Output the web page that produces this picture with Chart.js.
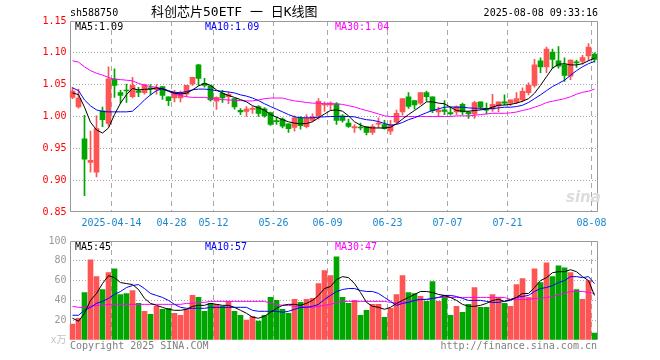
<!DOCTYPE html>
<html><head><meta charset="utf-8">
<script src="https://cdn.jsdelivr.net/npm/chart.js@4.4.1/dist/chart.umd.min.js"></script>
<style>
html,body{margin:0;padding:0;background:#fff;}
#wrap{position:relative;width:660px;height:360px;overflow:hidden;font-family:"DejaVu Sans Mono",monospace;}
canvas{position:absolute;left:0;}
.t{position:absolute;white-space:nowrap;font-size:10px;line-height:12px;font-family:"DejaVu Sans Mono","Noto Sans CJK SC",monospace;}
</style></head><body>
<div id="wrap">
<canvas id="k" width="660" height="232" style="top:0;width:660px;height:232px"></canvas>
<canvas id="v" width="660" height="128" style="top:232px;width:660px;height:128px"></canvas>
<div class="t" style="left:70px;top:7px;color:#000">sh588750</div>
<div class="t" style="left:151px;top:4px;font-size:13px;line-height:16px;color:#000">科创芯片50ETF 一 日K线图</div>
<div class="t" style="right:62px;top:7px;color:#000">2025-08-08 09:33:16</div>
<div class="t" id="kma5" style="left:75px;top:21px;color:#000"></div>
<div class="t" id="kma10" style="left:205px;top:21px;color:#0000ff"></div>
<div class="t" id="kma30" style="left:335px;top:21px;color:#ff00ff"></div>
<div class="t" id="vma5" style="left:75px;top:241px;color:#000"></div>
<div class="t" id="vma10" style="left:205px;top:241px;color:#0000ff"></div>
<div class="t" id="vma30" style="left:335px;top:241px;color:#ff00ff"></div>
<div class="t" style="left:566px;top:189px;font-family:'DejaVu Sans',sans-serif;font-weight:bold;font-style:italic;font-size:15px;line-height:16px;color:#dcdcdc">sina</div>
<div class="t" style="left:70px;top:340px;color:#808080">Copyright 2025 SINA.COM</div>
<div class="t" style="right:63px;top:340px;color:#808080">http://finance.sina.com.cn</div>
</div>
<script>
const dates = ['2025-04-02','2025-04-03','2025-04-07','2025-04-08','2025-04-09','2025-04-10','2025-04-11',
'2025-04-14','2025-04-15','2025-04-16','2025-04-17','2025-04-18','2025-04-21','2025-04-22','2025-04-23','2025-04-24','2025-04-25',
'2025-04-28','2025-04-29','2025-04-30','2025-05-06','2025-05-07','2025-05-08','2025-05-09',
'2025-05-12','2025-05-13','2025-05-14','2025-05-15','2025-05-16','2025-05-19','2025-05-20','2025-05-21','2025-05-22','2025-05-23',
'2025-05-26','2025-05-27','2025-05-28','2025-05-29','2025-05-30','2025-06-03','2025-06-04','2025-06-05','2025-06-06',
'2025-06-09','2025-06-10','2025-06-11','2025-06-12','2025-06-13','2025-06-16','2025-06-17','2025-06-18','2025-06-19','2025-06-20',
'2025-06-23','2025-06-24','2025-06-25','2025-06-26','2025-06-27','2025-06-30','2025-07-01','2025-07-02','2025-07-03','2025-07-04',
'2025-07-07','2025-07-08','2025-07-09','2025-07-10','2025-07-11','2025-07-14','2025-07-15','2025-07-16','2025-07-17','2025-07-18',
'2025-07-21','2025-07-22','2025-07-23','2025-07-24','2025-07-25','2025-07-28','2025-07-29','2025-07-30','2025-07-31','2025-08-01',
'2025-08-04','2025-08-05','2025-08-06','2025-08-07','2025-08-08'];

const markedDates  = ['2025-04-14','2025-04-28','2025-05-12','2025-05-26','2025-06-09','2025-06-23','2025-07-07','2025-07-21','2025-08-08'];
const markedLabels = ['2025-04-14','04-28','05-12','05-26','06-09','06-23','07-07','07-21','08-08'];

const open = [1.030,1.015,0.965,0.928,0.9125,1.009,0.989,1.059,1.0375,1.041,
1.031,1.0405,1.0375,1.045,1.042,1.047,1.031,1.029,1.029,1.035,
1.051,1.081,1.052,1.048,1.024,1.0365,1.031,1.028,1.0095,1.008,
1.011,1.0156,1.012,1.006,0.993,0.996,0.9885,0.983,0.998,0.984,
0.994,1.001,1.018,1.018,1.020,1.001,0.9896,0.982,0.983,0.984,
0.975,0.988,0.9875,0.977,0.991,1.007,1.031,1.025,1.021,1.0375,
1.031,1.007,1.0104,1.006,1.0073,1.019,1.007,1.004,1.023,1.0125,
1.0115,1.0167,1.023,1.021,1.022,1.026,1.0375,1.049,1.0875,1.078,
1.101,1.0875,1.081,1.0635,1.086,1.0865,1.095,1.098];
const high = [1.046,1.043,1.002,0.977,1.001,1.0146,1.078,1.075,1.041,1.051,
1.0615,1.046,1.051,1.050,1.050,1.047,1.031,1.041,1.040,1.049,
1.062,1.082,1.060,1.049,1.031,1.041,1.0385,1.028,1.0125,1.0156,
1.0156,1.017,1.014,1.007,0.999,0.998,0.9885,1.001,1.000,1.003,
1.004,1.028,1.023,1.023,1.022,1.003,0.996,0.9875,0.9896,0.984,
0.9875,0.998,0.994,0.994,1.010,1.028,1.0375,1.025,1.0375,1.040,
1.031,1.0146,1.025,1.0146,1.0167,1.021,1.008,1.024,1.023,1.021,
1.035,1.023,1.034,1.026,1.0375,1.045,1.053,1.0896,1.092,1.109,
1.106,1.110,1.092,1.089,1.0885,1.096,1.1146,1.100];
const low = [1.028,1.013,0.8755,0.9125,0.905,0.984,0.985,1.030,1.021,1.022,
1.029,1.031,1.035,1.034,1.035,1.027,1.017,1.023,1.023,1.031,
1.049,1.049,1.046,1.024,1.011,1.022,1.020,1.0115,1.003,1.000,
1.005,1.000,0.999,0.986,0.9875,0.982,0.975,0.977,0.980,0.982,
0.992,0.996,1.008,1.010,0.9875,0.991,0.983,0.975,0.979,0.971,
0.972,0.982,0.980,0.972,0.9885,1.002,1.0125,1.0115,1.019,1.024,
1.006,1.000,1.003,1.002,1.003,1.003,0.997,0.997,1.011,1.004,
1.008,1.007,1.018,1.017,1.020,1.023,1.034,1.046,1.069,1.069,
1.076,1.076,1.055,1.058,1.077,1.082,1.0875,1.0855];
const close = [1.040,1.029,0.933,0.931,0.981,0.995,1.059,1.049,1.033,1.040,
1.049,1.038,1.050,1.043,1.045,1.033,1.025,1.0375,1.0375,1.049,
1.0615,1.060,1.049,1.026,1.030,1.029,1.035,1.015,1.007,1.0115,
1.013,1.005,1.001,0.9875,0.992,0.985,0.981,0.998,0.9855,0.997,
1.000,1.024,1.020,1.021,0.994,0.994,0.9844,0.984,0.982,0.975,
0.984,0.989,0.981,0.9865,1.005,1.028,1.016,1.018,1.0375,1.031,
1.009,1.010,1.008,1.004,1.0156,1.007,1.004,1.022,1.0146,1.010,
1.019,1.023,1.021,1.026,1.028,1.0396,1.049,1.081,1.078,1.106,
1.0896,1.079,1.0646,1.0885,1.084,1.0927,1.109,1.0896];

const ma5 = [1.037,1.0344,1.0146,0.991,0.979,0.974,0.982,1.003,1.021,1.0344,
1.044,1.0417,1.0427,1.043,1.045,1.043,1.0396,1.0365,1.0354,1.0365,
1.0417,1.048,1.052,1.049,1.0417,1.0365,1.033,1.030,1.0266,1.023,
1.017,1.0135,1.010,1.003,0.999,0.995,0.9917,0.9896,0.9885,0.989,
0.9917,0.998,1.004,1.0094,1.0104,1.0083,1.001,0.9917,0.9865,0.983,
0.982,0.982,0.982,0.983,0.9885,0.996,1.003,1.0094,1.016,1.023,
1.023,1.021,1.020,1.0146,1.0094,1.0083,1.0083,1.0094,1.0104,1.0115,
1.0146,1.0177,1.018,1.019,1.021,1.024,1.028,1.0365,1.049,1.0625,
1.076,1.082,1.083,1.081,1.081,1.083,1.0875,1.0917];
const ma10 = [1.045,1.0406,1.026,1.0167,1.0104,1.0078,1.0073,1.0073,1.0073,1.0073,
1.0083,1.0167,1.026,1.034,1.0406,1.044,1.0406,1.038,1.0375,1.039,
1.042,1.043,1.043,1.0422,1.0406,1.0396,1.0385,1.037,1.034,1.032,
1.029,1.025,1.020,1.0156,1.0115,1.0073,1.003,0.9995,0.998,0.998,
0.998,0.999,0.9995,1.000,1.000,1.000,1.000,0.9995,0.997,0.995,
0.994,0.992,0.989,0.9865,0.9875,0.9906,0.995,0.998,1.002,1.006,
1.0094,1.012,1.0146,1.015,1.0146,1.0146,1.0135,1.013,1.013,1.0125,
1.0125,1.0135,1.0146,1.0146,1.0156,1.0177,1.022,1.028,1.034,1.0406,
1.047,1.052,1.057,1.0646,1.072,1.078,1.083,1.0865];
const ma30 = [1.0875,1.0854,1.078,1.072,1.068,1.065,1.0615,1.058,1.058,1.057,
1.056,1.052,1.049,1.047,1.046,1.043,1.040,1.035,1.033,1.031,
1.030,1.030,1.030,1.0286,1.0276,1.0266,1.026,1.0255,1.025,1.0245,
1.0245,1.026,1.028,1.029,1.029,1.029,1.0266,1.0245,1.0234,1.022,
1.021,1.021,1.020,1.0198,1.0198,1.019,1.017,1.015,1.012,1.0094,
1.0068,1.004,1.001,1.000,1.000,1.000,1.000,1.000,1.000,1.000,
1.000,1.000,1.000,1.000,1.001,1.001,1.001,1.002,1.003,1.004,
1.005,1.005,1.005,1.0057,1.007,1.0094,1.0115,1.0146,1.0177,1.022,
1.024,1.026,1.028,1.031,1.035,1.038,1.0396,1.043];

const volume = [16,22,48,81,64,51,68,72,46,47,
50,37,29,26,34,31,32,27,25,31,
45,43,29,37,36,34,39,29,25,20,
24,19,25,43,40,31,27,41,38,41,
42,57,70,65,84,43,37,40,25,30,
36,36,23,32,46,65,48,47,44,39,
59,39,45,25,34,28,36,53,33,33,
46,43,37,34,56,62,43,72,58,78,
64,75,73,68,51,41,60,7];
const volMa5 = [22,19,27,40,47,57,65,63,58,57,
56,51,42,37,35,33,31,30,30,31,
34,35,35,37,36,35,35,33,30,27,
23,22,24,28,32,35,36,36,35,37,
40,45,52,54,61,64,63,57,48,38,
34,33,31,33,37,40,43,46,49,49,
48,46,45,43,40,36,34,34,35,37,
40,41,39,41,43,47,47,53,60,63,
68,69,69,71,69,64,60,45];
const volMa10 = [25,25,30,33,37,39,42,46,49,53,
55,56,52,47,45,43,40,36,33,32,
32,32,32,33,33,33,33,33,33,33,
30,29,29,29,29,28,29,31,33,33,
34,36,41,45,49,51,52,52,50,49,
49,47,43,39,35,37,38,40,41,41,
42,43,45,45,44,42,40,40,40,39,
38,38,39,40,43,44,45,49,52,53,
55,58,60,64,64,63,64,57];
const volMa30 = [34,33,33,34,35,35,36,36,36,36,
36,36,36,36,36,36,36,36,36,37,
37,38,38,39,39,39,39,39,39,39,
39,39,39,37,36,35,35,34,34,33,
33,34,35,36,38,39,39,39,39,39,
39,39,39,38,37,38,39,40,41,41,
42,43,43,43,43,43,43,43,43,43,
43,43,43,41,41,41,41,42,42,43,
44,46,47,49,49,49,48,47];

const priceTicks = [0.85,0.90,0.95,1.00,1.05,1.10,1.15];
const volTicks = [0,20,40,60,80,100];

// ---------- styling ----------
const UP = '#ff5454', DOWN = '#00a600', GRID = '#a8a8a8', FRAME = '#999999';
const FONT = {family: "'DejaVu Sans Mono','Noto Sans CJK SC',monospace", size: 10};
const candleColors = close.map((c, i) => c >= open[i] ? UP : DOWN);
const markedIdx = markedDates.map(d => dates.indexOf(d));
const isMarked = i => markedIdx.indexOf(i) >= 0;

document.getElementById('kma5').textContent = 'MA5:' + ma5[ma5.length-1].toFixed(2);
document.getElementById('kma10').textContent = 'MA10:' + ma10[ma10.length-1].toFixed(2);
document.getElementById('kma30').textContent = 'MA30:' + ma30[ma30.length-1].toFixed(2);
document.getElementById('vma5').textContent = 'MA5:' + Math.round(volMa5[volMa5.length-1]);
document.getElementById('vma10').textContent = 'MA10:' + Math.round(volMa10[volMa10.length-1]);
document.getElementById('vma30').textContent = 'MA30:' + Math.round(volMa30[volMa30.length-1]);

const framePlugin = {
  id: 'frame',
  beforeDatasetsDraw(chart, args, opts) {
    const {ctx, chartArea: a} = chart;
    const l = Math.round(a.left) + 0.5, r = Math.round(a.right) - 0.5;
    const t = Math.round(a.top) + 0.5, b = Math.round(a.bottom) - 0.5;
    ctx.save();
    ctx.strokeStyle = FRAME; ctx.lineWidth = 1;
    ctx.beginPath();
    ctx.moveTo(l, b); ctx.lineTo(l, t); ctx.lineTo(r, t); ctx.lineTo(r, b);
    if (opts.bottom) { ctx.lineTo(l, b); }
    ctx.stroke();
    ctx.restore();
  }
};

function lineDs(data, color) {
  return {type: 'line', data, borderColor: color, borderWidth: 1, pointRadius: 0, tension: 0, fill: false, order: 0};
}

function xScale(showLabels) {
  return {
    type: 'category', offset: true,
    grid: {offset: true, drawTicks: false, lineWidth: 1,
      color: c => isMarked(c.index) ? GRID : 'rgba(0,0,0,0)'},
    border: {display: false, dash: [5, 4]},
    ticks: {display: showLabels, autoSkip: false, maxRotation: 0, minRotation: 0, padding: 5, labelOffset: -3,
      color: '#1a87cd', font: FONT,
      callback: (v, i) => { const k = markedIdx.indexOf(i); return k >= 0 ? markedLabels[k] : ''; }},
    afterFit: s => { s.height = 20; }
  };
}

new Chart(document.getElementById('k'), {
  data: {
    labels: dates,
    datasets: [
      lineDs(ma5, '#000000'),
      lineDs(ma10, '#0000ff'),
      lineDs(ma30, '#ff00ff'),
      {type: 'bar', data: open.map((o, i) => [o, close[i]]), backgroundColor: candleColors,
       barThickness: 5, grouped: false, order: 1, borderWidth: 0, minBarLength: 1},
      {type: 'bar', data: low.map((l, i) => [l, high[i]]), backgroundColor: candleColors,
       barThickness: 1, grouped: false, order: 2, borderWidth: 0}
    ]
  },
  options: {
    responsive: false, animation: false, devicePixelRatio: 1, events: [],
    layout: {padding: {left: 0, right: 62.5, top: 21, bottom: 0}},
    plugins: {legend: {display: false}, tooltip: {enabled: false}, frame: {bottom: true}},
    scales: {
      x: xScale(true),
      y: {
        min: 0.85, max: 1.15,
        afterBuildTicks: s => { s.ticks = priceTicks.map(v => ({value: v})); },
        grid: {drawTicks: false, color: c => (c.tick && c.tick.value > 0.851 && c.tick.value < 1.149) ? GRID : 'rgba(0,0,0,0)'},
        border: {display: false, dash: [1, 2]},
        ticks: {color: '#ff0000', font: FONT, padding: 3, callback: v => Number(v).toFixed(2)},
        afterFit: s => { s.width = 69.5; }
      }
    }
  },
  plugins: [framePlugin]
});

new Chart(document.getElementById('v'), {
  data: {
    labels: dates,
    datasets: [
      lineDs(volMa5, '#000000'),
      lineDs(volMa10, '#0000ff'),
      lineDs(volMa30, '#ff00ff'),
      {type: 'bar', data: volume, backgroundColor: candleColors, barThickness: 5, grouped: false, order: 1, borderWidth: 0}
    ]
  },
  options: {
    responsive: false, animation: false, devicePixelRatio: 1, events: [],
    layout: {padding: {left: 0, right: 62.5, top: 9, bottom: 0}},
    plugins: {legend: {display: false}, tooltip: {enabled: false}, frame: {bottom: false}},
    scales: {
      x: xScale(false),
      y: {
        min: 0, max: 100,
        afterBuildTicks: s => { s.ticks = volTicks.map(v => ({value: v})); },
        grid: {drawTicks: false, color: c => (c.tick && c.tick.value > 0 && c.tick.value < 100) ? GRID : 'rgba(0,0,0,0)'},
        border: {display: false, dash: [1, 2]},
        ticks: {font: FONT, padding: 3,
          color: c => (c.tick && c.tick.value === 0) ? '#c0c0c0' : '#999999',
          callback: v => v === 0 ? 'x万' : String(v)},
        afterFit: s => { s.width = 69.5; }
      }
    }
  },
  plugins: [framePlugin]
});
</script>
</body></html>
